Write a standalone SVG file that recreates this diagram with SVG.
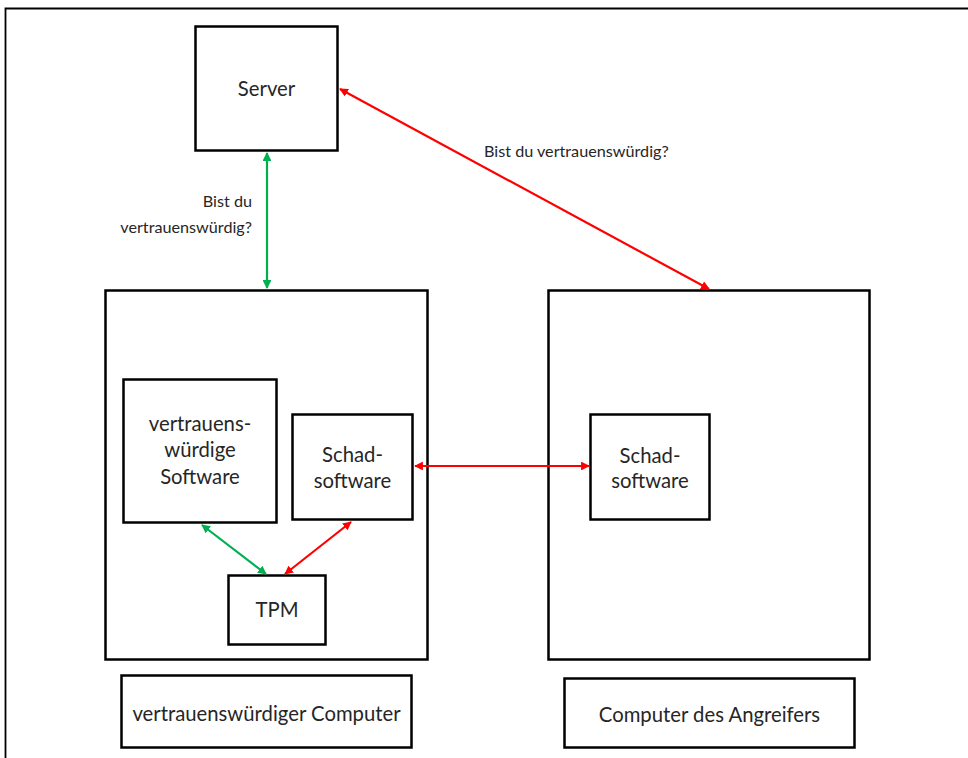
<svg xmlns="http://www.w3.org/2000/svg" width="968" height="758" viewBox="0 0 968 758">
  <style>
    .box { fill: #fff; stroke: #000; stroke-width: 2.5; }
    .frame { fill: none; stroke: #000; stroke-width: 1.8; }
    .lbl { font-family: Lato, "Open Sans", sans-serif; font-size: 20.3px; fill: #262626; text-anchor: middle; }
    .small { font-family: Lato, "Open Sans", sans-serif; font-size: 16.2px; fill: #262626; }
    .red { stroke: #ff0000; stroke-width: 2.2; fill: none; }
    .green { stroke: #00b050; stroke-width: 2.2; fill: none; }
  </style>
  <defs>
    <marker id="ah-red" viewBox="0 0 10 10" refX="9" refY="5" markerWidth="4" markerHeight="4" orient="auto-start-reverse">
      <path d="M0,0 L10,5 L0,10 z" fill="#ff0000"/>
    </marker>
    <marker id="ah-green" viewBox="0 0 10 10" refX="9" refY="5" markerWidth="4" markerHeight="4" orient="auto-start-reverse">
      <path d="M0,0 L10,5 L0,10 z" fill="#00b050"/>
    </marker>
  </defs>

  <rect x="0" y="0" width="968" height="758" fill="#fff"/>
  <!-- page frame -->
  <path class="frame" d="M5.5,760 L5.5,8.5 L970,8.5"/>

  <g id="server">
    <rect class="box" x="195.5" y="26.5" width="142" height="124"/>
    <text class="lbl" x="266.5" y="96">Server</text>
  </g>

  <g id="trusted-computer">
    <rect class="box" x="105.5" y="290.5" width="322" height="369"/>
  </g>

  <g id="attacker-computer">
    <rect class="box" x="548.5" y="290.5" width="321" height="369"/>
  </g>

  <g id="trusted-software">
    <rect class="box" x="123.5" y="379.5" width="153" height="143"/>
    <text class="lbl" x="200" y="431">vertrauens-</text>
    <text class="lbl" x="200" y="457">würdige</text>
    <text class="lbl" x="200" y="484">Software</text>
  </g>

  <g id="malware-local">
    <rect class="box" x="292.5" y="414.5" width="120" height="105"/>
    <text class="lbl" x="352.5" y="462">Schad-</text>
    <text class="lbl" x="352.5" y="488">software</text>
  </g>

  <g id="tpm">
    <rect class="box" x="228.5" y="575.5" width="97" height="69"/>
    <text class="lbl" x="277" y="617">TPM</text>
  </g>

  <g id="malware-remote">
    <rect class="box" x="590.5" y="414.5" width="119" height="105"/>
    <text class="lbl" x="650" y="463">Schad-</text>
    <text class="lbl" x="650" y="488">software</text>
  </g>

  <g id="label-trusted">
    <rect class="box" x="121.5" y="675.5" width="290" height="72"/>
    <text class="lbl" x="266.5" y="721">vertrauenswürdiger Computer</text>
  </g>

  <g id="label-attacker">
    <rect class="box" x="564.5" y="678.5" width="290" height="69"/>
    <text class="lbl" x="709.5" y="722">Computer des Angreifers</text>
  </g>

  <g id="connectors">
    <line class="green" x1="267" y1="153" x2="267" y2="288" marker-start="url(#ah-green)" marker-end="url(#ah-green)"/>
    <line class="red" x1="340" y1="89" x2="709" y2="289" marker-start="url(#ah-red)" marker-end="url(#ah-red)"/>
    <line class="red" x1="415" y1="466" x2="589" y2="466" marker-start="url(#ah-red)" marker-end="url(#ah-red)"/>
    <line class="green" x1="202" y1="525" x2="266" y2="574" marker-start="url(#ah-green)" marker-end="url(#ah-green)"/>
    <line class="red" x1="351" y1="522" x2="285" y2="574" marker-start="url(#ah-red)" marker-end="url(#ah-red)"/>
    <text class="small" x="252" y="207" text-anchor="end">Bist du</text>
    <text class="small" x="252" y="233" text-anchor="end">vertrauenswürdig?</text>
    <text class="small" x="484" y="157">Bist du vertrauenswürdig?</text>
  </g>
</svg>
